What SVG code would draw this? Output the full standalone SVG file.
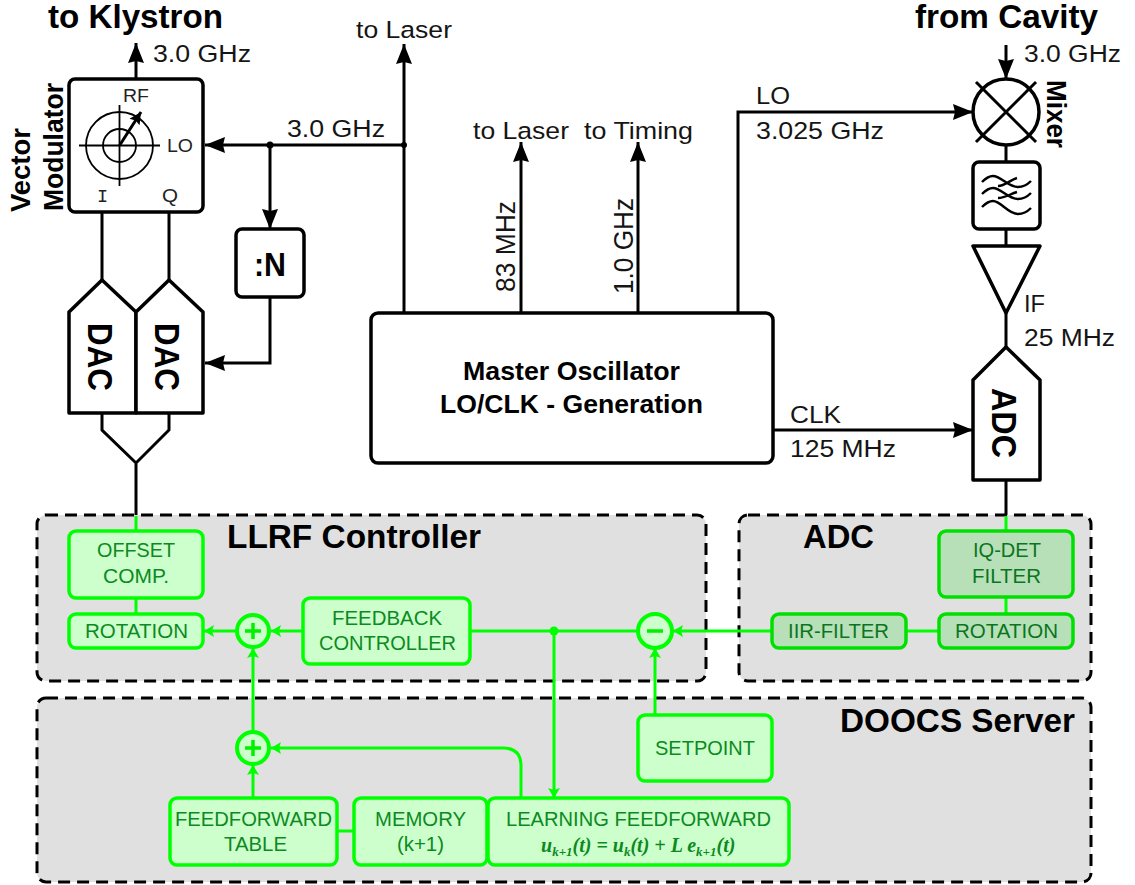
<svg xmlns="http://www.w3.org/2000/svg" width="1135" height="885" viewBox="0 0 1135 885">
<defs>
<marker id="ab" markerUnits="userSpaceOnUse" markerWidth="22" markerHeight="18" refX="20" refY="9" orient="auto" viewBox="0 0 22 18"><path d="M20,9 L0,1 L2,9 L0,17 Z" fill="#000"/></marker>
<marker id="ag" markerUnits="userSpaceOnUse" markerWidth="12" markerHeight="14" refX="10" refY="7" orient="auto" viewBox="0 0 12 14"><path d="M10,7 L0,1 L2,7 L0,13 Z" fill="#00ff00"/></marker>
<marker id="as" markerUnits="userSpaceOnUse" markerWidth="14" markerHeight="14" refX="12" refY="7" orient="auto" viewBox="0 0 14 14"><path d="M12,7 L0,1 L2,7 L0,13 Z" fill="#000"/></marker>
</defs>
<style>
text{font-family:"Liberation Sans",Arial,sans-serif}
.t{font-size:24.5px;fill:#151515}
.h{font-size:33px;font-weight:bold;fill:#000}
.b{font-weight:bold;fill:#000}
.g{font-size:21px;fill:#0c8a22}
.gd{font-size:21px;fill:#0a7520}
.s{font-size:18.5px;fill:#222}
.region{fill:#e0e0e0;stroke:#000;stroke-width:3;stroke-dasharray:12 7}
.box{fill:#fff;stroke:#000;stroke-width:3.5;stroke-linejoin:round}
.thin{fill:none;stroke:#000;stroke-width:1.8}
.gbox{fill:#ccffcc;stroke:#00ff00;stroke-width:3.5}
.gdark{fill:#b8e0b8;stroke:#00e000;stroke-width:3.5}
.gsum{fill:#ccffcc;stroke:#00ff00;stroke-width:4}
.gsym{fill:none;stroke:#00f000;stroke-width:3.5}
.bl{fill:none;stroke:#000;stroke-width:3}
.wave{fill:none;stroke:#000;stroke-width:2.4}
.gl{fill:none;stroke:#00ff00;stroke-width:3}
.f{font-family:"Liberation Serif","Times New Roman",serif;font-weight:bold;font-style:italic;font-size:20px;fill:#0c8a22}
.sub{font-size:13px}
</style>
<g id="regions">
<rect id="llrf-region" class="region" x="37" y="515" width="669" height="166" rx="9"/>
<rect id="adc-region" class="region" x="739" y="515" width="352" height="166" rx="9"/>
<rect id="doocs-region" class="region" x="37" y="698" width="1054" height="184" rx="9"/>
<text class="b" x="227" y="548" font-size="33" textLength="254" lengthAdjust="spacingAndGlyphs">LLRF Controller</text>
<text class="b" x="803" y="548" font-size="33" textLength="71" lengthAdjust="spacingAndGlyphs">ADC</text>
<text class="b" x="840" y="732" font-size="33" textLength="235" lengthAdjust="spacingAndGlyphs">DOOCS Server</text>
</g>
<g id="connectors">
<path class="bl" d="M136,79 V43" marker-end="url(#ab)"/>
<path class="bl" d="M404,145 H205" marker-end="url(#ab)"/>
<path class="bl" d="M270,145 V229" marker-end="url(#ab)"/>
<circle cx="270" cy="145" r="3.5" fill="#000"/>
<circle cx="404" cy="145" r="3" fill="#000"/>
<path class="bl" d="M270,297 V363 H205" marker-end="url(#ab)"/>
<path class="bl" d="M404,313 V44" marker-end="url(#ab)"/>
<path class="bl" d="M521,313 V142" marker-end="url(#ab)"/>
<path class="bl" d="M638,313 V142" marker-end="url(#ab)"/>
<path class="bl" d="M738,313 V112 H973" marker-end="url(#ab)"/>
<path class="bl" d="M1006,45 V79" marker-end="url(#ab)"/>
<path class="bl" d="M773,430 H973" marker-end="url(#ab)"/>
<path class="bl" d="M102,212 V280 M169,212 V280"/>
<path class="bl" d="M102,413 V430 L136,463 L169,430 V413 M136,463 V515"/>
<path class="bl" d="M1006,145 V162 M1006,229 V246 M1006,313 V347 M1006,480 V515"/>
<path class="gl" d="M136,516 V531 M136,598 V614 M1006,516 V531 M1006,597 V614"/>
<path class="gl" d="M303,631 H271" marker-end="url(#ag)"/>
<path class="gl" d="M236,631 H204" marker-end="url(#ag)"/>
<path class="gl" d="M253,731 V648" marker-end="url(#ag)"/>
<path class="gl" d="M253,798 V765" marker-end="url(#ag)"/>
<path class="gl" d="M521,798 V766 Q521,748 503,748 H271" marker-end="url(#ag)"/>
<path class="gl" d="M470,631 H638"/>
<path class="gl" d="M772,631 H673" marker-end="url(#ag)"/>
<path class="gl" d="M906,631 H939"/>
<path class="gl" d="M554,631 V798" marker-end="url(#ag)"/>
<circle cx="554" cy="631" r="4.5" fill="#00ff00"/>
<path class="gl" d="M655,715 V648" marker-end="url(#ag)"/>
<path class="gl" d="M337,831 H354"/>
</g>
<g id="vector-modulator">
<rect class="box" x="69" y="79" width="134" height="133" rx="6"/>
<circle class="thin" cx="119.5" cy="145.5" r="33.5"/>
<circle class="thin" cx="119.5" cy="145.5" r="16.5"/>
<path class="thin" d="M79,145.5 H160 M119.5,105 V186"/>
<path d="M119.5,145.5 L141,112" fill="none" stroke="#000" stroke-width="3" marker-end="url(#as)"/>
<text class="s" x="123" y="102" textLength="26" lengthAdjust="spacingAndGlyphs">RF</text>
<text class="s" x="167" y="152" textLength="26" lengthAdjust="spacingAndGlyphs">LO</text>
<text class="s" x="97" y="202" style="font-family:'Liberation Mono',monospace">I</text>
<text class="s" x="162" y="202" textLength="16" lengthAdjust="spacingAndGlyphs">Q</text>
<text class="b" transform="translate(30,212) rotate(-90)" font-size="27" textLength="84" lengthAdjust="spacingAndGlyphs">Vector</text>
<text class="b" transform="translate(63,211) rotate(-90)" font-size="27" textLength="128" lengthAdjust="spacingAndGlyphs">Modulator</text>
</g>
<g id="divider">
<rect class="box" x="236" y="229" width="68" height="68" rx="6"/>
<text class="b" x="254" y="276" font-size="33" textLength="32" lengthAdjust="spacingAndGlyphs">:N</text>
</g>
<g id="dac-1">
<path class="box" d="M69,413 V312 L102,280 L136,312 V413 Z"/>
<text class="b" transform="translate(88,323) rotate(90)" font-size="35" textLength="68" lengthAdjust="spacingAndGlyphs">DAC</text>
</g>
<g id="dac-2">
<path class="box" d="M136,413 V312 L169,280 L203,312 V413 Z"/>
<text class="b" transform="translate(155,323) rotate(90)" font-size="35" textLength="68" lengthAdjust="spacingAndGlyphs">DAC</text>
</g>
<g id="master-oscillator">
<rect class="box" x="371" y="313" width="402" height="150" rx="7"/>
<text class="b" x="463" y="380" font-size="26" textLength="217" lengthAdjust="spacingAndGlyphs">Master Oscillator</text>
<text class="b" x="440" y="413" font-size="26" textLength="263" lengthAdjust="spacingAndGlyphs">LO/CLK - Generation</text>
</g>
<g id="mixer">
<circle cx="1006" cy="112" r="33" fill="#fff" stroke="#000" stroke-width="3.5"/>
<path class="bl" d="M976,82 L1036,142 M1036,82 L976,142"/>
<text class="b" transform="translate(1047,80) rotate(90)" font-size="27" textLength="68" lengthAdjust="spacingAndGlyphs">Mixer</text>
</g>
<g id="filter">
<rect class="box" x="973" y="162" width="67" height="67" rx="6"/>
<path class="wave" d="M982,182 C987,177 990,176 993,176 C1001,176 1008,187 1018,187 C1023,187 1027,185 1031,181 M982,194 C987,189 990,188 993,188 C1001,188 1008,199 1018,199 C1023,199 1027,197 1031,193 M982,207 C987,202 990,201 993,201 C1001,201 1008,214 1018,214 C1023,214 1027,212 1031,208 M998,186 C1005,186 1010,180 1017,178 M998,198 C1005,198 1010,194 1017,192"/>
</g>
<g id="amplifier">
<path class="box" d="M973,246 H1040 L1006,313 Z"/>
</g>
<g id="adc">
<path class="box" d="M973,480 V380 L1006,347 L1040,380 V480 Z"/>
<text class="b" transform="translate(992,388) rotate(90)" font-size="35" textLength="70" lengthAdjust="spacingAndGlyphs">ADC</text>
</g>
<g id="labels">
<text class="h" x="48" y="28" textLength="175" lengthAdjust="spacingAndGlyphs">to Klystron</text>
<text class="h" x="915" y="28" textLength="183" lengthAdjust="spacingAndGlyphs">from Cavity</text>
<text class="t" x="153" y="62" textLength="98" lengthAdjust="spacingAndGlyphs">3.0 GHz</text>
<text class="t" x="287" y="137" textLength="98" lengthAdjust="spacingAndGlyphs">3.0 GHz</text>
<text class="t" x="356" y="38" textLength="96" lengthAdjust="spacingAndGlyphs">to Laser</text>
<text class="t" x="473" y="139" textLength="96" lengthAdjust="spacingAndGlyphs">to Laser</text>
<text class="t" x="584" y="139" textLength="109" lengthAdjust="spacingAndGlyphs">to Timing</text>
<text class="t" style="font-size:27px" transform="translate(515,292) rotate(-90)" textLength="91" lengthAdjust="spacingAndGlyphs">83 MHz</text>
<text class="t" style="font-size:27px" transform="translate(633,294) rotate(-90)" textLength="96" lengthAdjust="spacingAndGlyphs">1.0 GHz</text>
<text class="t" x="756" y="104" textLength="34" lengthAdjust="spacingAndGlyphs">LO</text>
<text class="t" x="756" y="139" textLength="128" lengthAdjust="spacingAndGlyphs">3.025 GHz</text>
<text class="t" x="1024" y="62" textLength="97" lengthAdjust="spacingAndGlyphs">3.0 GHz</text>
<text class="t" x="1024" y="312" textLength="21" lengthAdjust="spacingAndGlyphs">IF</text>
<text class="t" x="1024" y="346" textLength="91" lengthAdjust="spacingAndGlyphs">25 MHz</text>
<text class="t" x="790" y="423" textLength="51" lengthAdjust="spacingAndGlyphs">CLK</text>
<text class="t" x="790" y="457" textLength="106" lengthAdjust="spacingAndGlyphs">125 MHz</text>
</g>
<g id="offset-comp"><rect class="gbox" x="69" y="531" width="134" height="67" rx="7"/>
<text class="g" x="97" y="557" textLength="78" lengthAdjust="spacingAndGlyphs">OFFSET</text><text class="g" x="103" y="583" textLength="66" lengthAdjust="spacingAndGlyphs">COMP.</text></g>
<g id="rotation-left"><rect class="gbox" x="69" y="614" width="134" height="34" rx="7"/>
<text class="g" x="85" y="638" textLength="103" lengthAdjust="spacingAndGlyphs">ROTATION</text></g>
<g id="sum-1"><circle class="gsum" cx="253" cy="631" r="16"/><path class="gsym" d="M245,631 H261 M253,623 V639"/></g>
<g id="feedback-controller"><rect class="gbox" x="303" y="598" width="167" height="66" rx="7"/>
<text class="g" x="332" y="625" textLength="110" lengthAdjust="spacingAndGlyphs">FEEDBACK</text><text class="g" x="319" y="650" textLength="137" lengthAdjust="spacingAndGlyphs">CONTROLLER</text></g>
<g id="sum-error"><circle class="gsum" cx="655" cy="631" r="17"/><path class="gsym" d="M647,631 H663"/></g>
<g id="iir-filter"><rect class="gdark" x="772" y="614" width="134" height="34" rx="7"/>
<text class="gd" x="788" y="638" textLength="101" lengthAdjust="spacingAndGlyphs">IIR-FILTER</text></g>
<g id="rotation-right"><rect class="gdark" x="939" y="614" width="134" height="34" rx="7"/>
<text class="gd" x="955" y="638" textLength="103" lengthAdjust="spacingAndGlyphs">ROTATION</text></g>
<g id="iq-det-filter"><rect class="gdark" x="939" y="531" width="134" height="66" rx="7"/>
<text class="gd" x="973" y="557" textLength="68" lengthAdjust="spacingAndGlyphs">IQ-DET</text><text class="gd" x="972" y="583" textLength="69" lengthAdjust="spacingAndGlyphs">FILTER</text></g>
<g id="setpoint"><rect class="gbox" x="638" y="715" width="134" height="66" rx="7"/>
<text class="g" x="655" y="755" textLength="100" lengthAdjust="spacingAndGlyphs">SETPOINT</text></g>
<g id="sum-2"><circle class="gsum" cx="253" cy="748" r="16"/><path class="gsym" d="M245,748 H261 M253,740 V756"/></g>
<g id="feedforward-table"><rect class="gbox" x="170" y="798" width="167" height="67" rx="7"/>
<text class="g" x="175" y="826" textLength="157" lengthAdjust="spacingAndGlyphs">FEEDFORWARD</text><text class="g" x="224" y="851" textLength="63" lengthAdjust="spacingAndGlyphs">TABLE</text></g>
<g id="memory"><rect class="gbox" x="354" y="798" width="133" height="67" rx="7"/>
<text class="g" x="375" y="826" textLength="91" lengthAdjust="spacingAndGlyphs">MEMORY</text><text class="g" x="397" y="851" textLength="47" lengthAdjust="spacingAndGlyphs">(k+1)</text></g>
<g id="learning-feedforward"><rect class="gbox" x="488" y="798" width="301" height="67" rx="7"/>
<text class="g" x="506" y="826" textLength="265" lengthAdjust="spacingAndGlyphs">LEARNING FEEDFORWARD</text>
<text class="f" x="541" y="852">u<tspan class="sub" dy="4">k+1</tspan><tspan dy="-4">(t) = u</tspan><tspan class="sub" dy="4">k</tspan><tspan dy="-4">(t) + L e</tspan><tspan class="sub" dy="4">k+1</tspan><tspan dy="-4">(t)</tspan></text></g>
</svg>
